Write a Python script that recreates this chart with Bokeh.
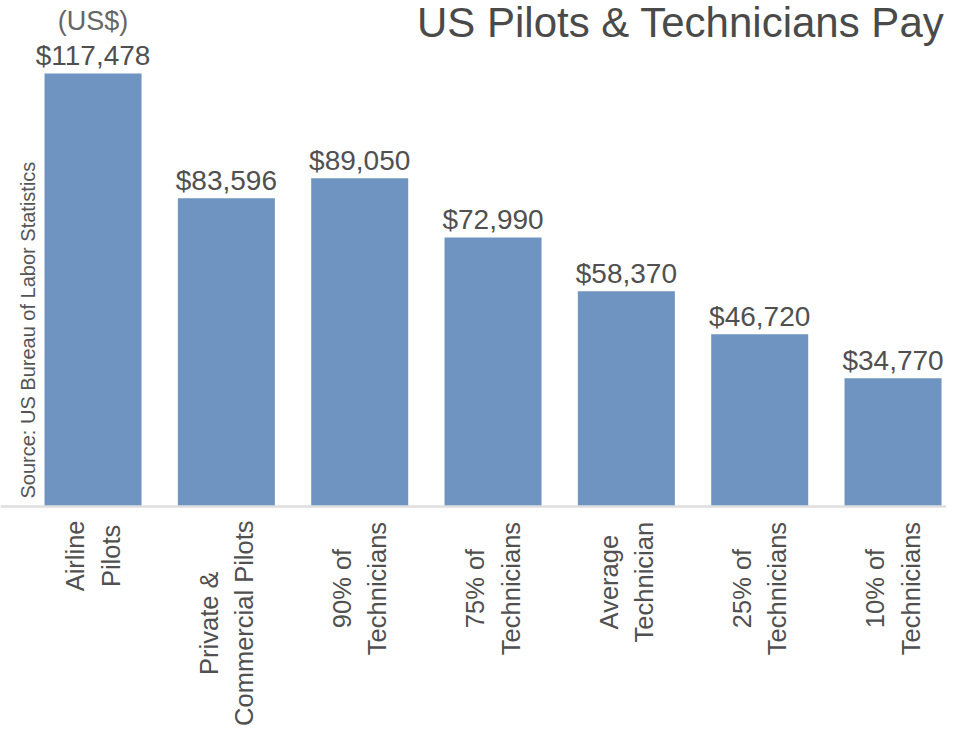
import math
from bokeh.plotting import figure
from bokeh.models import Range1d, Span, ColumnDataSource
from bokeh.core.properties import value
from bokeh.embed import file_html
from bokeh.resources import INLINE

# ---- data ----
categories = ["Airline\nPilots", "Private &\nCommercial Pilots", "90% of\nTechnicians",
              "75% of\nTechnicians", "Average\nTechnician", "25% of\nTechnicians",
              "10% of\nTechnicians"]
pay = [117478, 83596, 89050, 72990, 58370, 46720, 34770]
title_text = "US Pilots & Technicians Pay"
unit_text = "(US$)"
source_text = "Source: US Bureau of Labor Statistics"

FONT = value("Liberation Sans")
CAT_SIZE = 25.5
CAT_GAP = 14

# approximate advance widths (em/1000) of Liberation Sans, used only to
# centre the multi-line rotated category labels below the baseline
_W = {" ": 278, "%": 889, "&": 667, "A": 667, "C": 722, "P": 667, "T": 611,
      "a": 556, "b": 556, "c": 500, "e": 556, "g": 556, "h": 556, "i": 222,
      "l": 222, "m": 833, "n": 556, "o": 556, "r": 333, "s": 500, "t": 278,
      "v": 500, "f": 278, "y": 500}


def text_px(s, size):
    return max(sum(_W.get(ch, 556) for ch in line) for line in s.split("\n")) * size / 1000.0


x_pos = list(range(len(categories)))
pay_labels = ["${:,}".format(v) for v in pay]
cat_offsets = [CAT_GAP + text_px(c, CAT_SIZE) / 2.0 for c in categories]

src = ColumnDataSource(dict(x=x_pos, pay=pay, lab=pay_labels, cat=categories,
                            zero=[0] * len(pay), cat_off=cat_offsets))

x_start, x_end = -0.694, 6.401
y_start, y_end = -60500, 137276

p = figure(width=946, height=729, x_range=Range1d(x_start, x_end),
           y_range=Range1d(y_start, y_end), x_axis_location=None, y_axis_location=None,
           toolbar_location=None, output_backend="svg", min_border=0,
           outline_line_color=None, background_fill_color="white")
p.grid.visible = False

p.vbar(x="x", top="pay", bottom=0, width=0.7275, source=src,
       fill_color="#6f94c1", line_color=None)

p.add_layout(Span(location=0, dimension="width", line_color="#dedede", line_width=2.5))

# value labels
p.text(x="x", y="pay", text="lab", source=src, text_align="center",
       text_baseline="alphabetic", y_offset=-18, text_font=FONT,
       text_font_size="28px", text_color="#505050")

# unit label above the first value
p.text(x=[x_pos[0]], y=[pay[0]], text=[unit_text], text_align="center",
       text_baseline="alphabetic", y_offset=-52, text_font=FONT,
       text_font_size="27px", text_color="#666666")

# category labels (rotated, lines centred)
p.text(x="x", y="zero", text="cat", source=src, angle=math.pi / 2,
       anchor="center", text_align="center", text_baseline="middle",
       y_offset="cat_off", text_line_height=1.263, text_font=FONT,
       text_font_size="%spx" % CAT_SIZE, text_color="#505050")

# title
p.text(x=[x_end], y=[y_end], text=[title_text], text_align="right",
       text_baseline="alphabetic", x_offset=-2, y_offset=22, text_font=FONT,
       text_font_size="42px", text_color="#4a4a4a")

# source note
p.text(x=[x_start], y=[0], text=[source_text], angle=math.pi / 2,
       text_align="left", text_baseline="middle", x_offset=27, y_offset=-8,
       text_font=FONT, text_font_size="20px", text_color="#555555")

open("out.html", "w").write(file_html(p, INLINE))
